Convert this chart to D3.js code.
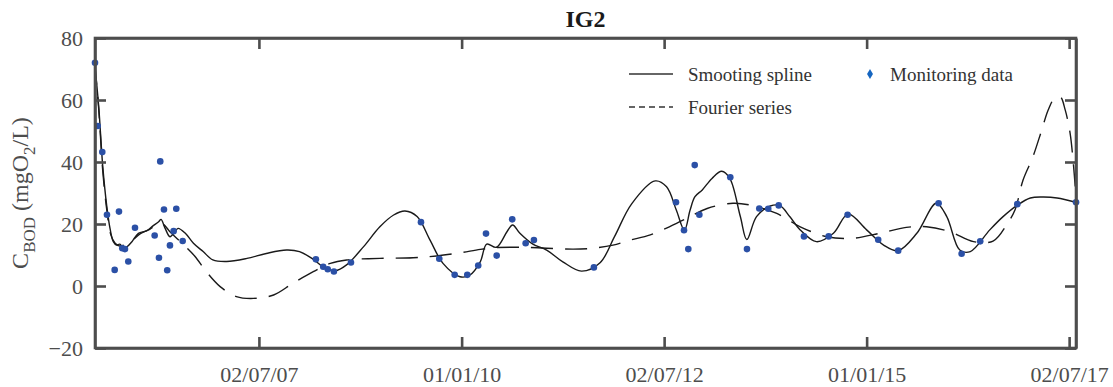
<!DOCTYPE html>
<html>
<head>
<meta charset="utf-8">
<script src="https://cdn.jsdelivr.net/npm/d3@7"></script>
<style>
  html, body { margin: 0; padding: 0; background: #fff; }
  svg { display: block; }
</style>
</head>
<body>
<svg id="chart" width="1113" height="387"></svg>
<script>
// Monitoring data: sampling time (decimal year) and BOD concentration (mgO2/L)
const obsYear = [
  2005.474, 2005.507, 2005.564, 2005.622, 2005.717, 2005.770, 2005.811, 2005.844, 2005.885, 2005.968,
  2006.211, 2006.264, 2006.280, 2006.326, 2006.366, 2006.400, 2006.445, 2006.478, 2006.557,
  2008.202, 2008.292, 2008.348, 2008.424, 2008.634,
  2009.498, 2009.724, 2009.914, 2010.070, 2010.205, 2010.301, 2010.433, 2010.625, 2010.791, 2010.893,
  2011.634, 2012.646, 2012.745, 2012.798, 2012.877, 2012.934, 2013.316, 2013.522, 2013.674, 2013.785,
  2013.914, 2014.226, 2014.531, 2014.765, 2015.143, 2015.390, 2015.889, 2016.173, 2016.402, 2016.859,
  2017.584
];
const obsValue = [
  72.0, 51.6, 43.2, 23.0, 5.2, 24.0, 12.2, 11.9, 7.9, 18.8,
  16.3, 9.1, 40.2, 24.7, 5.1, 13.1, 17.7, 24.9, 14.5,
  8.6, 6.2, 5.4, 4.7, 7.6,
  20.6, 8.8, 3.6, 3.6, 6.6, 16.9, 9.8, 21.5, 13.8, 14.8,
  6.0, 27.0, 18.0, 11.9, 39.0, 23.0, 35.1, 11.9, 25.0, 24.9,
  26.0, 16.0, 16.0, 23.0, 14.9, 11.4, 26.7, 10.4, 14.4, 26.4,
  27.0
];

// Smoothing spline fit
const splineYear = [
  2005.47, 2005.52, 2005.57, 2005.62, 2005.66, 2005.70, 2005.74, 2005.78, 2005.82, 2005.87,
  2005.93, 2006.01, 2006.11, 2006.19, 2006.26, 2006.29, 2006.34, 2006.40, 2006.46, 2006.50,
  2006.59, 2006.69, 2006.81, 2006.93, 2007.10, 2007.35, 2007.59, 2007.84, 2008.00, 2008.17,
  2008.29, 2008.44, 2008.58, 2008.79, 2008.99, 2009.16, 2009.30, 2009.45, 2009.61, 2009.77,
  2009.98, 2010.10, 2010.23, 2010.31, 2010.43, 2010.56, 2010.63, 2010.72, 2010.88, 2011.05,
  2011.25, 2011.48, 2011.71, 2011.89, 2012.10, 2012.39, 2012.53, 2012.65, 2012.75, 2012.82,
  2012.88, 2012.97, 2013.09, 2013.21, 2013.31, 2013.44, 2013.52, 2013.64, 2013.81, 2013.93,
  2014.05, 2014.18, 2014.38, 2014.59, 2014.77, 2015.00, 2015.21, 2015.39, 2015.62, 2015.86,
  2015.99, 2016.15, 2016.28, 2016.52, 2016.68, 2016.86, 2017.02, 2017.18, 2017.35, 2017.58
];
const splineValue = [
  72.0, 57.8, 38.5, 25.6, 18.5, 14.3, 13.2, 13.5, 12.5, 12.7,
  14.3, 17.0, 17.8, 19.4, 20.7, 21.5, 18.6, 15.9, 17.5, 18.6,
  17.0, 13.8, 11.1, 8.4, 7.9, 8.9, 10.5, 11.6, 11.1, 8.6,
  6.2, 4.9, 6.8, 12.7, 19.1, 22.9, 24.2, 22.4, 14.8, 7.3,
  3.0, 3.5, 7.8, 13.5, 12.5, 17.5, 19.7, 17.0, 13.5, 11.6,
  7.8, 4.8, 7.5, 16.0, 26.5, 33.9, 32.0, 24.5, 18.0, 24.5,
  28.8, 31.0, 34.7, 37.0, 34.7, 22.4, 15.0, 22.4, 25.8, 25.9,
  22.4, 18.1, 14.3, 17.0, 23.2, 18.1, 13.2, 11.4, 17.0, 26.7,
  22.4, 11.6, 11.1, 18.1, 22.3, 26.1, 28.4, 28.7, 28.4, 27.0
];

// Fourier series fit
const fourierYear = [
  2005.47, 2005.52, 2005.57, 2005.62, 2005.67, 2005.72, 2005.78, 2005.91, 2006.03, 2006.15,
  2006.24, 2006.31, 2006.40, 2006.50, 2006.60, 2006.71, 2006.85, 2007.02, 2007.22, 2007.43,
  2007.68, 2007.92, 2008.17, 2008.38, 2008.58, 2008.99, 2009.40, 2009.69, 2009.98, 2010.23,
  2010.43, 2010.72, 2011.05, 2011.38, 2011.63, 2011.87, 2012.08, 2012.33, 2012.74, 2013.03,
  2013.35, 2013.56, 2013.89, 2014.18, 2014.51, 2014.83, 2015.16, 2015.49, 2015.74, 2016.03,
  2016.32, 2016.56, 2016.74, 2016.83, 2016.93, 2017.05, 2017.16, 2017.24, 2017.32, 2017.39,
  2017.45, 2017.51, 2017.55, 2017.58
];
const fourierValue = [
  72.0, 57.0, 37.0, 24.5, 16.5, 13.9, 12.9, 14.2, 16.8, 18.3,
  19.8, 20.0, 17.5, 15.0, 12.5, 9.5, 4.6, -0.2, -3.4, -4.0,
  -2.9, 0.9, 4.6, 7.3, 8.4, 8.9, 9.1, 9.7, 10.7, 11.8,
  12.4, 12.5, 12.2, 11.9, 12.2, 13.2, 14.8, 16.5, 21.3, 25.0,
  26.7, 26.1, 23.4, 19.1, 15.9, 15.4, 17.0, 18.9, 19.1, 17.5,
  14.3, 14.5, 20.3, 24.5, 34.2, 41.6, 50.3, 56.8, 60.6, 61.0,
  56.8, 49.4, 39.7, 30.0
];

const yTicks = [-20, 0, 20, 40, 60, 80];
const xTickDates = ["2007-07-02", "2010-01-01", "2012-07-02", "2015-01-01", "2017-07-02"];
const xTickLabels = ["02/07/07", "01/01/10", "02/07/12", "01/01/15", "02/07/17"];
const legendLabels = ["Smooting spline", "Fourier series", "Monitoring data"];

// decimal year -> Date
function yearToDate(v) {
  const yr = Math.floor(v);
  const start = Date.UTC(yr, 0, 1), end = Date.UTC(yr + 1, 0, 1);
  return new Date(start + (v - yr) * (end - start));
}
const parseDay = d3.utcParse("%Y-%m-%d");

const svg = d3.select("#chart");
const box = { left: 95, right: 1076, top: 38, bottom: 348 };
const axisColor = "#4d4d4d";
const serif = "'Liberation Serif', 'Times New Roman', serif";

const x = d3.scaleUtc()
  .domain([Date.UTC(2005, 5, 23), Date.UTC(2017, 7, 2)])
  .range([box.left, box.right]);
const y = d3.scaleLinear().domain([-20, 80]).range([box.bottom, box.top]);

// Title
svg.append("text")
  .attr("x", (box.left + box.right) / 2).attr("y", 27)
  .attr("text-anchor", "middle")
  .attr("font-family", serif).attr("font-weight", "bold")
  .attr("font-size", 24).attr("fill", "#1a1a1a")
  .text("IG2");

// Curves
const plot = svg.append("g");
const lineGen = d3.line()
  .x(d => x(yearToDate(d[0])))
  .y(d => y(d[1]))
  .curve(d3.curveCatmullRom.alpha(0.5));

plot.append("path")
  .attr("d", lineGen(d3.zip(fourierYear, fourierValue)))
  .attr("fill", "none").attr("stroke", "#1a1a1a")
  .attr("stroke-width", 1.4).attr("stroke-dasharray", "22,12");

plot.append("path")
  .attr("d", lineGen(d3.zip(splineYear, splineValue)))
  .attr("fill", "none").attr("stroke", "#1a1a1a")
  .attr("stroke-width", 1.4);

plot.selectAll("circle.obs")
  .data(d3.zip(obsYear, obsValue))
  .join("circle")
  .attr("class", "obs")
  .attr("cx", d => x(yearToDate(d[0])))
  .attr("cy", d => y(d[1]))
  .attr("r", 3.3)
  .attr("fill", "#2b50a6");

// Axes (box with inward ticks on all four sides)
const tickLen = 11;
const bottomAxis = d3.axisBottom(x)
  .tickValues(xTickDates.map(parseDay))
  .tickFormat((d, i) => xTickLabels[i])
  .tickSizeInner(-tickLen).tickSizeOuter(0);
const topAxis = d3.axisTop(x)
  .tickValues(xTickDates.map(parseDay))
  .tickFormat("").tickSizeInner(-tickLen).tickSizeOuter(0);
const leftAxis = d3.axisLeft(y)
  .tickValues(yTicks).tickFormat(d3.format("d"))
  .tickSizeInner(-tickLen).tickSizeOuter(0);
const rightAxis = d3.axisRight(y)
  .tickValues(yTicks).tickFormat("")
  .tickSizeInner(-tickLen).tickSizeOuter(0);

function styleAxis(g) {
  g.select(".domain").attr("stroke", axisColor).attr("stroke-width", 2.6);
  g.selectAll(".tick line").attr("stroke", axisColor).attr("stroke-width", 2.6);
  g.selectAll(".tick text")
    .attr("fill", "#4d4d4d")
    .attr("font-family", serif)
    .attr("font-size", 22);
}

svg.append("g").attr("transform", `translate(0,${box.bottom})`).call(bottomAxis).call(styleAxis)
  .selectAll(".tick text").attr("y", 34).attr("dy", 0);
svg.append("g").attr("transform", `translate(0,${box.top})`).call(topAxis).call(styleAxis);
svg.append("g").attr("transform", `translate(${box.left},0)`).call(leftAxis).call(styleAxis)
  .selectAll(".tick text").attr("x", -12).attr("dy", "0.36em");
svg.append("g").attr("transform", `translate(${box.right},0)`).call(rightAxis).call(styleAxis);

// Square corners of the box
svg.append("rect")
  .attr("x", box.left).attr("y", box.top)
  .attr("width", box.right - box.left).attr("height", box.bottom - box.top)
  .attr("fill", "none").attr("stroke", axisColor).attr("stroke-width", 2.6);

// Y-axis label: C_BOD (mgO_2/L)
const yl = svg.append("text")
  .attr("transform", `translate(28,${(box.top + box.bottom) / 2}) rotate(-90)`)
  .attr("text-anchor", "middle")
  .attr("font-family", serif).attr("font-size", 24).attr("fill", "#4d4d4d");
yl.append("tspan").text("C");
yl.append("tspan").attr("dy", 7).attr("font-size", 17).text("BOD");
yl.append("tspan").attr("dy", -7).text(" (mgO");
yl.append("tspan").attr("dy", 7).attr("font-size", 17).text("2");
yl.append("tspan").attr("dy", -7).text("/L)");

// Legend
const leg = svg.append("g");
const legFont = 19;
leg.append("line").attr("x1", 629).attr("x2", 673).attr("y1", 74).attr("y2", 74)
  .attr("stroke", "#333").attr("stroke-width", 1.4);
leg.append("text").attr("x", 688).attr("y", 74).attr("dy", "0.35em")
  .attr("font-family", serif).attr("font-size", legFont).attr("fill", "#333")
  .text(legendLabels[0]);
leg.append("line").attr("x1", 629).attr("x2", 673).attr("y1", 107).attr("y2", 107)
  .attr("stroke", "#333").attr("stroke-width", 1.4).attr("stroke-dasharray", "6,4");
leg.append("text").attr("x", 688).attr("y", 107).attr("dy", "0.35em")
  .attr("font-family", serif).attr("font-size", legFont).attr("fill", "#333")
  .text(legendLabels[1]);
leg.append("path")
  .attr("d", d3.symbol(d3.symbolDiamond, 30)())
  .attr("transform", "translate(870,74)")
  .attr("fill", "#1565c0");
leg.append("text").attr("x", 890).attr("y", 74).attr("dy", "0.35em")
  .attr("font-family", serif).attr("font-size", legFont).attr("fill", "#333")
  .text(legendLabels[2]);
</script>
</body>
</html>
